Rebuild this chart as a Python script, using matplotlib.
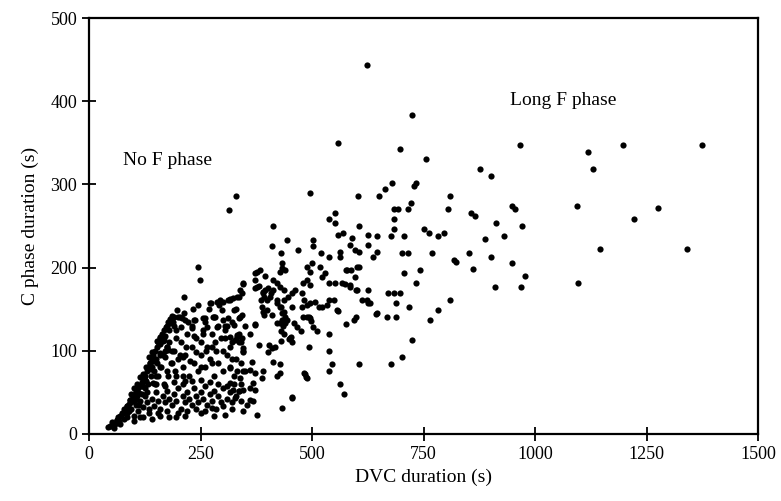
import numpy as np
import matplotlib.pyplot as plt

plt.rcParams['font.family'] = ['Liberation Serif', 'DejaVu Serif']

# long DVC durations, sparse part of the cloud
dvc_sparse = [966, 1119, 1196, 1374, 877, 900, 1129, 949, 954, 1093, 1274, 1221, 911, 971,
              931, 888, 1145, 1339, 900, 947, 978, 910, 969, 1095,
              623, 723, 559, 696, 756, 496, 603, 649, 664, 679, 729, 732, 809, 804, 856, 864,
              852, 861, 684, 692, 714, 721, 684, 684, 751, 761, 781, 796, 676, 705, 702, 714,
              768, 818, 822, 705, 741, 732, 669, 684, 697, 688, 716, 667, 688, 808, 783, 764,
              723, 701, 676, 606, 643, 626, 611, 626, 598, 594, 575, 599, 584, 597, 576, 587,
              604, 538, 552, 567, 557, 538, 548, 522, 516, 538, 538, 545, 538, 563, 572, 494,
              483, 487, 455, 433, 377]
c_sparse = [347, 339, 347, 347, 318, 310, 319, 274, 270, 274, 271, 258, 254, 250,
            238, 234, 222, 222, 213, 206, 190, 177, 177, 181,
            443, 383, 350, 343, 331, 290, 286, 286, 294, 302, 298, 302, 286, 270, 266, 262,
            218, 198, 270, 270, 270, 278, 258, 246, 246, 242, 238, 242, 238, 238, 218, 218,
            218, 209, 207, 193, 197, 181, 169, 169, 169, 157, 153, 140, 140, 161, 149, 137,
            113, 93, 84, 84, 144, 157, 161, 173, 140, 137, 132, 173, 177, 189, 197, 197,
            201, 181, 181, 181, 148, 161, 161, 153, 152, 120, 100, 84, 75, 60, 48, 104,
            72, 68, 44, 31, 23]

# middle of the cloud
dvc_mid = [552, 538, 552, 606, 413, 559, 570, 589, 585, 604, 596, 563, 563, 626, 645, 626,
           645, 637, 503, 501, 443, 411, 430, 468, 519, 538, 432, 432, 440, 428, 383, 372,
           499, 488, 496, 518, 529, 522, 488, 480, 496, 574, 585, 600, 578, 600, 346, 339,
           316, 331, 324, 342, 335, 372, 380, 390, 395, 385, 400, 413, 421, 428, 436, 413,
           406, 421, 436, 447, 454, 462, 391, 398, 387, 398, 391, 421, 428, 436, 440, 432,
           443, 454, 477, 488, 496, 507, 533, 555, 477, 482, 492, 496, 480, 623, 630, 645,
           488, 497, 503, 511, 474, 466, 460, 453, 449, 430, 440, 434, 430, 436, 433, 430,
           372, 451, 455, 381, 404, 409, 400, 417, 346, 346, 331, 327, 335, 342, 316, 366,
           412, 427, 482, 488, 428, 421, 389, 387, 316, 331, 346, 361, 372, 339, 368, 372,
           316, 323, 335, 346, 327, 361, 368, 454, 344]
c_mid = [266, 258, 253, 250, 250, 239, 241, 235, 227, 219, 221, 219, 213, 239, 238, 227,
         219, 213, 233, 226, 233, 226, 217, 221, 218, 213, 205, 199, 197, 195, 197, 193,
         205, 201, 195, 201, 193, 189, 185, 181, 179, 180, 179, 173, 197, 201, 181, 173,
         161, 165, 149, 143, 139, 185, 178, 170, 190, 161, 175, 185, 181, 177, 173, 173,
         165, 161, 161, 165, 169, 173, 165, 161, 153, 149, 143, 157, 153, 147, 141, 137,
         137, 153, 153, 155, 157, 159, 155, 149, 169, 161, 141, 139, 141, 161, 157, 145,
         140, 136, 129, 124, 124, 129, 133, 116, 114, 112, 133, 130, 124, 120, 145, 152,
         132, 115, 111, 107, 107, 103, 99, 105, 103, 99, 119, 113, 111, 115, 105, 87,
         87, 84, 73, 67, 73, 69, 76, 67, 79, 75, 75, 77, 73, 67, 61, 53,
         61, 53, 51, 53, 43, 41, 39, 43, 27]

# short DVC durations, dense corner
dvc_dense = [329, 314, 244, 249, 212, 197, 346, 376, 372, 376, 395, 407, 389, 273, 286, 300,
             312, 323, 335, 342, 389, 410, 421, 372, 428, 182, 189, 204, 215, 230, 238, 260,
             264, 282, 286, 301, 305, 324, 331, 316, 339, 184, 208, 235, 256, 277, 271, 294,
             316, 297, 312, 320, 159, 167, 174, 178, 159, 144, 137, 152, 140, 126, 118, 110,
             103, 92, 84, 77, 70, 62, 54, 51,
             42, 48, 52, 55, 58, 62, 65, 68, 72, 75, 78, 80, 84, 88, 90, 92, 95, 98, 100,
             103, 106, 108, 110, 112, 115, 118, 120, 123, 126, 128, 130, 133, 136, 138, 140,
             143, 145, 148, 152, 155, 158, 160, 163, 167, 170, 174, 178, 182, 186, 190,
             85, 95, 100, 105, 110, 115, 120, 125, 130, 135, 140, 145, 150, 155, 160, 165,
             170, 175, 180, 185, 190, 195, 200, 205, 210, 215, 220, 225, 230, 235, 240, 245,
             250, 255, 260, 265, 270, 275, 280, 285, 290, 295, 300, 305, 310, 315, 320, 325,
             330, 335, 340, 120, 140, 160, 180, 200, 220, 250, 275, 130, 150, 170, 190, 210,
             230, 250, 270, 290, 310, 150, 160, 165, 175, 185, 190, 195, 200, 205, 210, 215,
             211, 220, 225, 230, 235, 240, 245, 250, 255, 260, 265, 270, 275, 280, 285, 290,
             295, 300, 305, 310, 315, 320, 325, 330, 335, 340, 345, 350, 144, 215, 180, 195,
             170, 230, 260, 290, 250, 280, 305, 275]
c_dense = [286, 269, 201, 185, 164, 149, 180, 195, 175, 177, 173, 169, 169, 157, 158, 158,
           161, 163, 165, 169, 147, 143, 133, 131, 133, 133, 135, 141, 137, 127, 137, 139,
           129, 141, 129, 137, 125, 131, 117, 117, 141, 135, 139, 137, 139, 140, 157, 161,
           162, 149, 139, 135, 117, 113, 105, 101, 97, 89, 85, 85, 81, 65, 57, 49,
           41, 41, 33, 25, 21, 17, 13, 9,
           8, 10, 14, 7, 12, 17, 20, 15, 22, 25, 18, 28, 33, 30, 36, 41, 38, 44, 40,
           48, 52, 45, 55, 49, 58, 62, 57, 66, 70, 64, 75, 80, 85, 78, 90,
           95, 88, 100, 105, 110, 115, 108, 120, 125, 118, 130, 135, 138, 142, 140,
           25, 30, 22, 35, 28, 40, 32, 45, 38, 25, 42, 33, 50, 40, 30, 45,
           38, 52, 42, 35, 48, 40, 55, 30, 45, 38, 50, 42, 35, 55, 45, 38,
           50, 42, 58, 35, 48, 40, 52, 30, 45, 38, 55, 23, 42, 50, 38, 60,
           45, 52, 40, 20, 18, 22, 20, 25, 28, 25, 31, 50, 60, 58, 62, 60,
           63, 65, 62, 60, 58, 70, 80, 95, 75, 85, 100, 70, 90, 110, 80, 95,
           93, 120, 70, 105, 85, 115, 75, 95, 125, 80, 105, 90, 120, 70, 100, 85,
           115, 75, 130, 95, 80, 110, 70, 90, 120, 85, 100, 75, 61, 63, 110, 125,
           100, 130, 135, 130, 110, 140, 115, 105]

# extra points filling the wedge under the left edge
dvc_wedge = [70, 78, 85, 90, 95, 100, 105, 108, 112, 115, 118, 122, 125, 128, 132, 135,
             138, 142, 145, 148, 150, 153, 155, 158, 162, 165, 168, 170, 172, 175, 178, 180,
             183, 186, 190, 193, 196, 200, 203, 207, 210, 213, 218, 222, 226, 232, 236, 240,
             245, 250, 255, 262, 268, 275, 283, 292, 300, 310, 320, 330, 340, 350, 360, 100,
             115, 135, 155, 175, 195, 215, 240, 260, 280, 300, 320, 340, 360, 355]
c_wedge = [12, 30, 20, 28, 48, 55, 42, 60, 35, 68, 48, 72, 55, 80, 60, 92,
           70, 98, 75, 60, 90, 112, 70, 95, 80, 112, 60, 92, 128, 105, 70, 125,
           85, 100, 130, 75, 115, 140, 95, 128, 70, 145, 105, 135, 88, 150, 118, 98,
           155, 80, 120, 100, 150, 85, 110, 155, 100, 130, 90, 150, 110, 130, 120, 15,
           20, 30, 25, 28, 20, 22, 30, 28, 22, 33, 30, 60, 55, 35]

dvc = np.array(dvc_sparse + dvc_mid + dvc_dense + dvc_wedge)
c_phase = np.array(c_sparse + c_mid + c_dense + c_wedge)

fig = plt.figure(figsize=(7.81, 5.01), dpi=100)
ax = fig.add_axes([0.114, 0.134, 0.857, 0.830])

ax.scatter(dvc, c_phase, s=20, color='black', linewidths=0, zorder=3)

ax.set_xlim(0, 1500)
ax.set_ylim(0, 500)
ax.set_xticks([0, 250, 500, 750, 1000, 1250, 1500])
ax.set_yticks([0, 100, 200, 300, 400, 500])
ax.tick_params(direction='inout', length=10, width=1.3, labelsize=13, colors='black')
for s in ax.spines.values():
    s.set_linewidth(1.6)

ax.set_xlabel('DVC duration (s)', fontsize=14, labelpad=4)
ax.set_ylabel('C phase duration (s)', fontsize=14, labelpad=8)

ax.text(76, 329, 'No F phase', fontsize=14, va='center', ha='left')
ax.text(944, 401, 'Long F phase', fontsize=14, va='center', ha='left')

fig.savefig('out.png', dpi=100)
